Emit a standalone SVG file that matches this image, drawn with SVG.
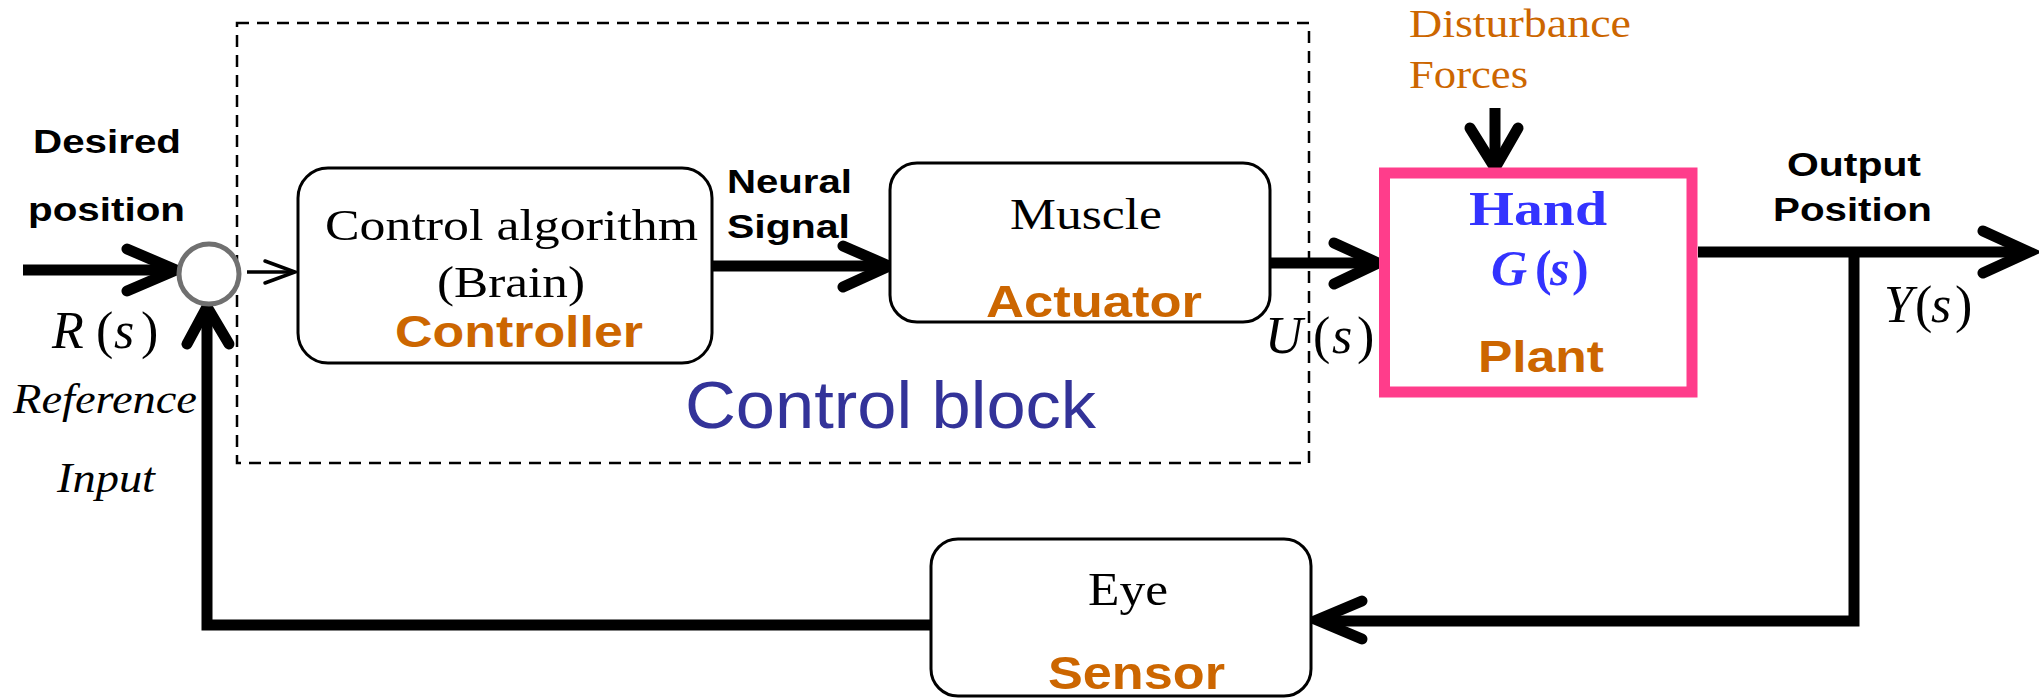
<svg xmlns="http://www.w3.org/2000/svg" width="2039" height="698" viewBox="0 0 2039 698">
<style>
.serif{font-family:"Liberation Serif","Times New Roman",serif;}
.sans{font-family:"Liberation Sans",Arial,sans-serif;}
.lbl{font-family:"Liberation Sans",Arial,sans-serif;font-weight:bold;fill:#000;}
.role{font-family:"Liberation Sans",Arial,sans-serif;font-weight:bold;fill:#CC6600;}
.box{fill:#fff;stroke:#000;stroke-width:3;}
.thick{fill:none;stroke:#000;stroke-width:11;stroke-linecap:butt;stroke-linejoin:miter;}
.head{fill:none;stroke:#000;stroke-width:11;stroke-linecap:round;stroke-linejoin:miter;}
.math{font-family:"Liberation Serif","Times New Roman",serif;font-size:52px;fill:#000;}
</style>
<rect width="2039" height="698" fill="#fff"/>

<g id="control-block">
  <rect x="237" y="23" width="1072" height="440" fill="none" stroke="#000" stroke-width="2.5" stroke-dasharray="12,8"/>
  <text class="sans" x="685" y="428" font-size="66" fill="#333399" textLength="411" lengthAdjust="spacingAndGlyphs">Control block</text>
</g>

<g id="connectors">
  <line class="thick" x1="23" y1="270" x2="172" y2="270"/>
  <polyline class="head" points="127,249 176,270 127,291"/>
  <line x1="247" y1="272" x2="292" y2="272" stroke="#000" stroke-width="3.5"/>
  <polyline points="265,261 295,272 265,283" fill="none" stroke="#000" stroke-width="3.5" stroke-linecap="round"/>
  <line class="thick" x1="712" y1="266" x2="886" y2="266"/>
  <polyline class="head" points="843,246 889,266 843,287"/>
  <line class="thick" x1="1270" y1="263" x2="1375" y2="263"/>
  <polyline class="head" points="1334,243 1378,263 1334,284"/>
  <line class="thick" x1="1495" y1="108" x2="1495" y2="165"/>
  <polyline class="head" points="1470,128 1495,168 1518,128"/>
  <line class="thick" x1="1698" y1="252" x2="2025" y2="252"/>
  <polyline class="head" points="1983,231 2029,252 1983,273"/>
  <polyline class="thick" points="1854,252 1854,621 1320,621"/>
  <polyline class="head" points="1362,601 1317,620 1362,639"/>
  <polyline class="thick" points="931,625 207,625 207,310"/>
  <polyline class="head" points="187,344 207,307 229,344"/>
</g>

<g id="sum-junction">
  <circle cx="209" cy="274" r="30" fill="#fff" stroke="#707070" stroke-width="5"/>
</g>

<g id="input-labels">
  <text class="lbl" x="33" y="153" font-size="34" textLength="148" lengthAdjust="spacingAndGlyphs">Desired</text>
  <text class="lbl" x="28" y="221" font-size="34" textLength="157" lengthAdjust="spacingAndGlyphs">position</text>
  <text class="math"><tspan x="52" y="348" font-style="italic">R</tspan><tspan x="96" y="348">(</tspan><tspan x="114" y="348" font-style="italic">s</tspan><tspan x="141" y="348">)</tspan></text>
  <text class="serif" x="13" y="413" font-size="42" font-style="italic" textLength="184" lengthAdjust="spacingAndGlyphs">Reference</text>
  <text class="serif" x="57" y="492" font-size="42" font-style="italic" textLength="98" lengthAdjust="spacingAndGlyphs">Input</text>
</g>

<g id="controller">
  <rect class="box" x="298" y="168" width="414" height="195" rx="30" ry="30"/>
  <text class="serif" x="325" y="240" font-size="45" textLength="373" lengthAdjust="spacingAndGlyphs">Control algorithm</text>
  <text class="serif" x="437" y="297" font-size="45" textLength="148" lengthAdjust="spacingAndGlyphs">(Brain)</text>
  <text class="role" x="395" y="347" font-size="44" textLength="248" lengthAdjust="spacingAndGlyphs">Controller</text>
</g>

<g id="neural-signal-label">
  <text class="lbl" x="727" y="193" font-size="34" textLength="125" lengthAdjust="spacingAndGlyphs">Neural</text>
  <text class="lbl" x="727" y="238" font-size="34" textLength="123" lengthAdjust="spacingAndGlyphs">Signal</text>
</g>

<g id="muscle">
  <rect class="box" x="890" y="163" width="380" height="159" rx="27" ry="27"/>
  <text class="serif" x="1010" y="229" font-size="44" textLength="152" lengthAdjust="spacingAndGlyphs">Muscle</text>
  <text class="role" x="986" y="317" font-size="45" textLength="216" lengthAdjust="spacingAndGlyphs">Actuator</text>
</g>

<g id="u-label">
  <text class="math"><tspan x="1265" y="353" font-style="italic">U</tspan><tspan x="1313" y="353">(</tspan><tspan x="1332" y="353" font-style="italic">s</tspan><tspan x="1357" y="353">)</tspan></text>
</g>

<g id="disturbance">
  <text class="serif" x="1409" y="37" font-size="40" fill="#CC6600" textLength="222" lengthAdjust="spacingAndGlyphs">Disturbance</text>
  <text class="serif" x="1409" y="88" font-size="40" fill="#CC6600" textLength="119" lengthAdjust="spacingAndGlyphs">Forces</text>
</g>

<g id="hand">
  <rect x="1384.5" y="173" width="307.5" height="219" fill="#fff" stroke="#FF3D8B" stroke-width="11"/>
  <text class="serif" x="1469" y="225" font-size="48" font-weight="bold" fill="#3333FF" textLength="138" lengthAdjust="spacingAndGlyphs">Hand</text>
  <text class="serif" font-size="50" font-weight="bold" fill="#3333FF"><tspan x="1491" y="285" font-style="italic">G</tspan><tspan x="1535" y="285">(</tspan><tspan x="1550" y="285" font-style="italic">s</tspan><tspan x="1572" y="285">)</tspan></text>
  <text class="role" x="1478" y="372" font-size="44" textLength="126" lengthAdjust="spacingAndGlyphs">Plant</text>
</g>

<g id="output-labels">
  <text class="lbl" x="1787" y="176" font-size="33" textLength="134" lengthAdjust="spacingAndGlyphs">Output</text>
  <text class="lbl" x="1773" y="221" font-size="33" textLength="159" lengthAdjust="spacingAndGlyphs">Position</text>
  <text class="math"><tspan x="1884" y="322" font-style="italic">Y</tspan><tspan x="1915" y="322">(</tspan><tspan x="1931" y="322" font-style="italic">s</tspan><tspan x="1955" y="322">)</tspan></text>
</g>

<g id="eye">
  <rect class="box" x="931" y="539" width="380" height="157" rx="27" ry="27"/>
  <text class="serif" x="1088" y="605" font-size="46" textLength="80" lengthAdjust="spacingAndGlyphs">Eye</text>
  <text class="role" x="1048" y="689" font-size="47" textLength="177" lengthAdjust="spacingAndGlyphs">Sensor</text>
</g>
</svg>
